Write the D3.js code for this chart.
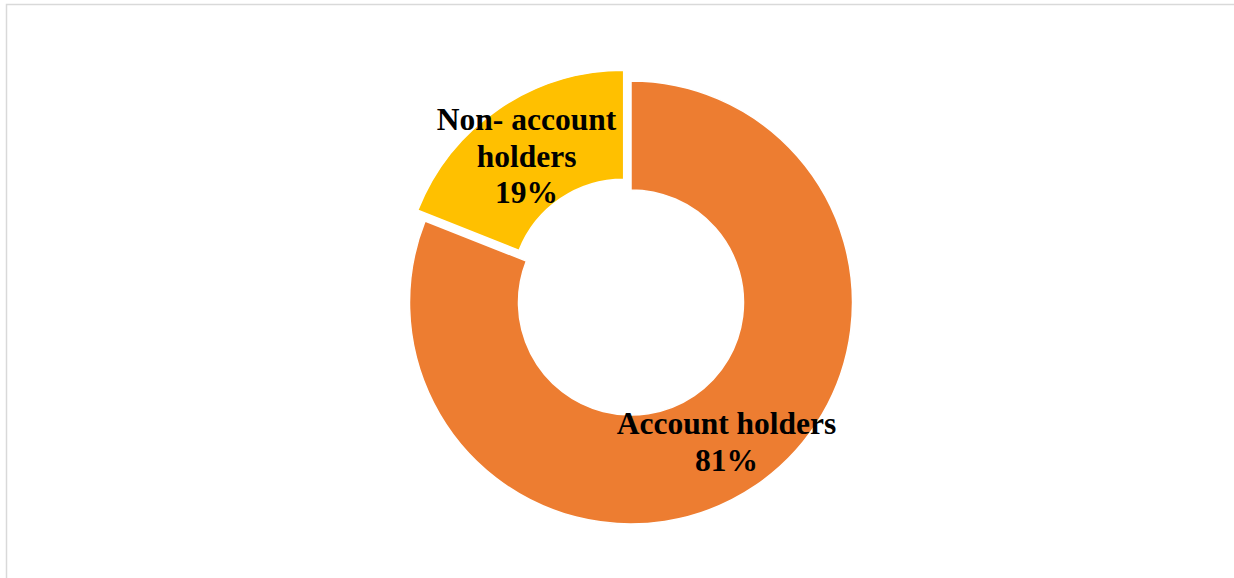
<!DOCTYPE html>
<html>
<head>
<meta charset="utf-8">
<script src="https://cdn.jsdelivr.net/npm/d3@7"></script>
<style>
  html, body { margin: 0; padding: 0; background: #fff; }
  svg { display: block; }
  text { font-family: "Liberation Serif", "Times New Roman", serif; font-weight: bold; fill: #000; }
</style>
</head>
<body>
<svg id="chart" width="1234" height="578"></svg>
<script>
// Share of respondents with and without an account
const categories = ["Account holders", "Non- account holders"];
const shares = [81, 19];
const colors = ["#ED7D31", "#FFC000"];
const labelLines = [["Account holders", "81%"], ["Non- account", "holders", "19%"]];

const width = 1234, height = 578;
const cx = 631, cy = 302.5;
const outerR = 221.5, innerR = 112.5;

const svg = d3.select("#chart");

// Frame
svg.append("rect")
  .attr("x", 6.5).attr("y", 4.5)
  .attr("width", width).attr("height", height)
  .attr("fill", "none")
  .attr("stroke", "#d9d9d9")
  .attr("stroke-width", 1.5);

const data = categories.map((c, i) => ({ name: c, value: shares[i], color: colors[i], lines: labelLines[i] }));

// Start from 12 o'clock going clockwise; the small slice ends at 12 o'clock
const pie = d3.pie().value(d => d.value).sort(null)
  .startAngle(0).endAngle(2 * Math.PI);
const arcs = pie(data);

const arc = d3.arc().innerRadius(innerR).outerRadius(outerR);

const g = svg.append("g").attr("transform", `translate(${cx},${cy})`);

// Exploded offset for the second slice
const explode = [0, 13];

g.selectAll("path.slice")
  .data(arcs)
  .join("path")
  .attr("class", "slice")
  .attr("d", arc)
  .attr("fill", d => d.data.color)
  .attr("stroke", "#fff")
  .attr("stroke-width", 1.5)
  .attr("transform", (d, i) => {
    const mid = (d.startAngle + d.endAngle) / 2;
    const off = explode[i];
    return `translate(${off * Math.sin(mid)},${-off * Math.cos(mid)})`;
  });

// Labels (first-line baseline offsets from the centre)
const labelPos = [[95.5, 131.5], [-104.5, -172.5]];
const lineH = 36.5;
data.forEach((d, i) => {
  const t = g.append("text")
    .attr("text-anchor", "middle")
    .attr("font-size", 31.5)
    .attr("x", labelPos[i][0])
    .attr("y", labelPos[i][1]);
  d.lines.forEach((ln, j) => {
    t.append("tspan")
      .attr("x", labelPos[i][0])
      .attr("y", labelPos[i][1] + j * lineH)
      .text(ln);
  });
});
</script>
</body>
</html>
